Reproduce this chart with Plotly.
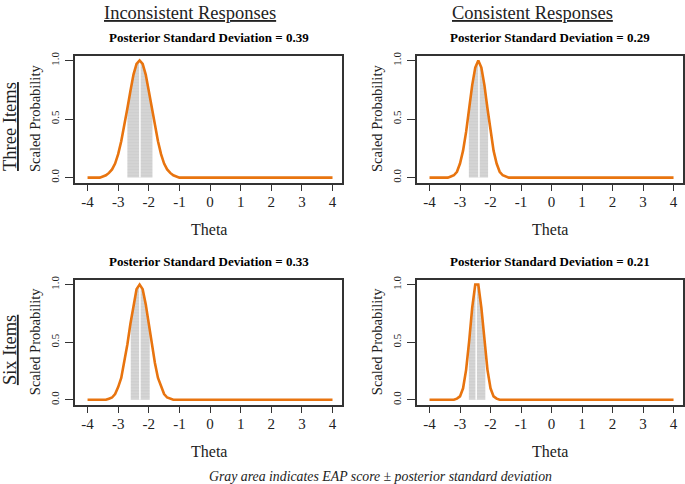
import numpy as np
import plotly.graph_objects as go

# posterior curves (scaled so the peak = 1)
theta_three_incons = [-4.0, -3.6, -3.5, -3.4, -3.3, -3.2, -3.1, -3.0, -2.9, -2.8, -2.7, -2.6, -2.5, -2.4,
                      -2.3, -2.2, -2.1, -2.0, -1.9, -1.8, -1.7, -1.6, -1.5, -1.4, -1.3, -1.2, -1.1, -1.0, 4.0]
prob_three_incons = [0, 0, .01, .02, .04, .07, .12, .20, .31, .44, .59, .74, .88, .97,
                     1.0, .97, .88, .74, .59, .44, .31, .20, .12, .07, .04, .02, .01, 0, 0]

theta_three_cons = [-4.0, -3.4, -3.3, -3.2, -3.1, -3.0, -2.9, -2.8, -2.7, -2.6, -2.5, -2.4,
                    -2.3, -2.2, -2.1, -2.0, -1.9, -1.8, -1.7, -1.6, -1.5, -1.4, 4.0]
prob_three_cons = [0, 0, .01, .02, .05, .12, .23, .39, .59, .79, .94, 1.0,
                   .94, .79, .59, .39, .23, .12, .05, .02, .01, 0, 0]

theta_six_incons = [-4.0, -3.4, -3.3, -3.2, -3.1, -3.0, -2.9, -2.8, -2.7, -2.6, -2.5, -2.4, -2.3,
                    -2.2, -2.1, -2.0, -1.9, -1.8, -1.7, -1.6, -1.5, -1.4, -1.3, -1.2, 4.0]
prob_six_incons = [0, 0, .01, .02, .05, .11, .19, .32, .48, .66, .83, .96, 1.0,
                   .96, .83, .66, .48, .32, .19, .11, .05, .02, .01, 0, 0]

theta_six_cons = [-4.0, -3.2, -3.1, -3.0, -2.9, -2.8, -2.7, -2.6, -2.5, -2.4,
                  -2.3, -2.2, -2.1, -2.0, -1.9, -1.8, -1.7, 4.0]
prob_six_cons = [0, 0, .01, .03, .10, .26, .51, .80, 1.0, 1.0,
                 .80, .51, .26, .10, .03, .01, 0, 0]

posterior_sd = [0.39, 0.29, 0.33, 0.21]
eap = [-2.29, -2.38, -2.29, -2.47]
shade_lo = [-2.70, -2.71, -2.59, -2.71]
shade_hi = [-1.88, -2.08, -1.97, -2.17]

col_titles = ["Inconsistent Responses", "Consistent Responses"]
row_titles = ["Three Items", "Six Items"]

curves = [(theta_three_incons, prob_three_incons), (theta_three_cons, prob_three_cons),
          (theta_six_incons, prob_six_incons), (theta_six_cons, prob_six_cons)]

W, H = 685, 484
FONT = "Liberation Serif"
ORANGE = "#E8740F"

# frame boxes in pixels: (left, right, top, bottom)
boxes = [(75, 342, 52, 180), (417, 683, 52, 180), (75, 342, 278, 404), (417, 683, 278, 404)]

fig = go.Figure()
layout = {}
annotations = []

for i, ((th, pr), box) in enumerate(zip(curves, boxes)):
    n = "" if i == 0 else str(i + 1)
    xa, ya = "x" + n, "y" + n
    th = np.array(th)
    pr = np.array(pr)

    # gray band EAP +/- SD, following the curve
    inside = (th > shade_lo[i]) & (th < shade_hi[i])
    sx = np.concatenate([[shade_lo[i]], th[inside], [shade_hi[i]]])
    sy = np.concatenate([[np.interp(shade_lo[i], th, pr)], pr[inside], [np.interp(shade_hi[i], th, pr)]])
    fig.add_trace(go.Scatter(x=sx, y=sy, fill="tozeroy", mode="none",
                             fillcolor="#CFCFCF",
                             fillpattern=dict(shape="-", bgcolor="#CFCFCF", fgcolor="#E2E2E2",
                                              size=3, solidity=0.3),
                             xaxis=xa, yaxis=ya, showlegend=False, hoverinfo="skip"))
    # white line at EAP
    fig.add_trace(go.Scatter(x=[eap[i], eap[i]], y=[0, np.interp(eap[i], th, pr)], mode="lines",
                             line=dict(color="white", width=1.5),
                             xaxis=xa, yaxis=ya, showlegend=False, hoverinfo="skip"))
    fig.add_trace(go.Scatter(x=th, y=pr, mode="lines", line=dict(color=ORANGE, width=2.6),
                             xaxis=xa, yaxis=ya, showlegend=False))

    l, r, t, b = box
    layout["xaxis" + n] = dict(
        domain=[l / W, r / W], range=[-4.41, 4.31], anchor=ya,
        tickvals=[-4, -3, -2, -1, 0, 1, 2, 3, 4], ticktext=["-4", "-3", "-2", "-1", "0", "1", "2", "3", "4"],
        ticks="outside", ticklen=7, tickcolor="#333", tickwidth=1,
        tickfont=dict(family=FONT, size=15, color="#222"), ticklabelstandoff=-2,
        showline=True, linecolor="#333", linewidth=1.5, mirror=True,
        showgrid=False, zeroline=False, fixedrange=True)
    layout["yaxis" + n] = dict(
        domain=[1 - b / H, 1 - t / H], range=[-0.042, 1.042], anchor=xa,
        tickvals=[0, 0.5, 1], ticktext=["0.0", "0.5", "1.0"], tickangle=-90,
        ticks="outside", ticklen=8, tickcolor="#333", tickwidth=1,
        tickfont=dict(family=FONT, size=11, color="#222"), ticklabelstandoff=2,
        showline=True, linecolor="#333", linewidth=1.5, mirror=True,
        showgrid=False, zeroline=False, fixedrange=True)

    cx = (l + r) / 2 / W
    annotations.append(dict(text="<b>Posterior Standard Deviation = %.2f</b>" % posterior_sd[i],
                            x=cx, y=1 - (t - 18) / H, xref="paper", yref="paper",
                            xanchor="center", yanchor="middle", showarrow=False,
                            font=dict(family=FONT, size=13, color="black")))
    annotations.append(dict(text="Theta", x=cx, y=1 - (b + 47) / H, xref="paper", yref="paper",
                            xanchor="center", yanchor="middle", showarrow=False,
                            font=dict(family=FONT, size=16, color="#222")))
    annotations.append(dict(text="Scaled Probability", x=(l - 40) / W, y=1 - (t + b) / 2 / H,
                            xref="paper", yref="paper", xanchor="center", yanchor="middle",
                            textangle=-90, showarrow=False,
                            font=dict(family=FONT, size=14.5, color="#222")))

for j, txt in enumerate(col_titles):
    annotations.append(dict(text="<u>" + txt + "</u>", x=[190, 532][j] / W, y=1 - 9 / H,
                            xref="paper", yref="paper", xanchor="center", yanchor="middle",
                            showarrow=False, font=dict(family=FONT, size=18.5, color="#222")))
for j, txt in enumerate(row_titles):
    annotations.append(dict(text="<u>" + txt + "</u>", x=10 / W, y=1 - [124, 349][j] / H,
                            xref="paper", yref="paper", xanchor="center", yanchor="middle",
                            textangle=-90, showarrow=False,
                            font=dict(family=FONT, size=18.5, color="#222")))

annotations.append(dict(text="<i>Gray area indicates EAP score \u00b1 posterior standard deviation</i>",
                        x=380 / W, y=1 - 476 / H, xref="paper", yref="paper",
                        xanchor="center", yanchor="middle", showarrow=False,
                        font=dict(family=FONT, size=13.8, color="#222")))

fig.update_layout(
    width=W, height=H,
    margin=dict(l=0, r=0, t=0, b=0),
    paper_bgcolor="white", plot_bgcolor="white",
    annotations=annotations,
    **layout
)

fig.write_html("out.html", config={"displayModeBar": False},
               post_script="document.body.style.margin='0';document.body.style.overflow='hidden';")
